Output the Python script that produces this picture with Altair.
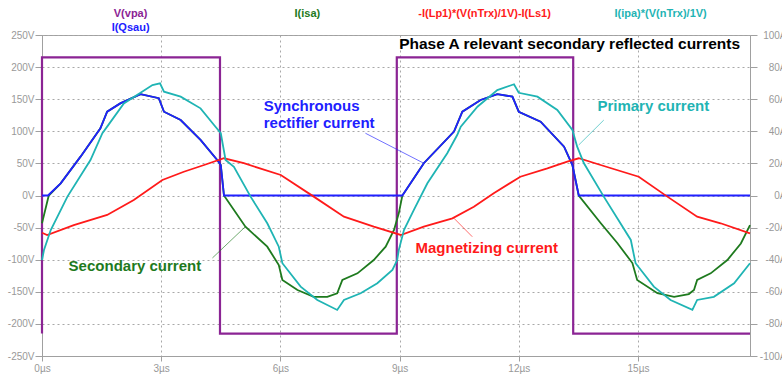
import altair as alt
import pandas as pd

# ---- data (time in µs, voltage in V, currents in A) ----
vpa_t = [0, 0, 4.48, 4.48, 8.93, 8.93, 13.37, 13.37, 17.82]
vpa_v = [-215, 215, 215, -215, -215, 215, 215, -215, -215]

qsau_t = [0, 0.15, 0.47, 0.97, 1.47, 1.64, 1.97, 2.48, 2.94, 3.07, 3.49, 3.99, 4.41, 4.50, 4.58,
          9.07, 9.61, 10.37, 10.58, 11.04, 11.46, 11.84, 12.00, 12.55, 13.14, 13.35, 13.51, 17.82]
qsau_a = [0, 0, 7.6, 24.2, 41.9, 52.2, 57.4, 63.1, 60.6, 52.2, 47.0, 34.6, 22.1, 19.0, 0,
          0, 20.1, 39.8, 52.2, 59.5, 63.1, 61.6, 52.2, 46.0, 30.4, 19.0, 0, 0]

isa_t = [0, 0.17, 0.47, 0.97, 1.47, 1.64, 1.97, 2.48, 2.94, 3.07, 3.49, 3.99, 4.41, 4.50, 4.58,
         5.12, 5.67, 5.96, 6.05, 6.43, 6.84, 7.18, 7.43, 7.56, 7.94, 8.35, 8.65, 8.86, 8.98, 9.07,
         9.61, 10.37, 10.58, 11.04, 11.46, 11.84, 12.00, 12.55, 13.14, 13.35, 13.51,
         14.06, 14.48, 14.86, 14.98, 15.49, 15.91, 16.28, 16.41, 16.49, 16.83, 17.25, 17.59, 17.82]
isa_a = [-17.3, 0, 7.6, 24.2, 41.9, 52.2, 57.4, 63.1, 60.6, 52.2, 47.0, 34.6, 22.1, 19.0, 0,
         -19.4, -31.9, -43.3, -52.6, -58.9, -63.1, -63.1, -60.9, -52.6, -48.5, -40.2, -31.9, -21.5, -11.1, 0,
         20.1, 39.8, 52.2, 59.5, 63.1, 61.6, 52.2, 46.0, 30.4, 19.0, 0,
         -17.1, -29.6, -42.1, -52.6, -60.9, -63.1, -61.4, -58.9, -52.6, -48.5, -40.2, -29.9, -18.4]

lp_t = [0, 0.13, 0.80, 1.64, 2.31, 3.03, 3.57, 4.08, 4.58, 5.08, 6.01, 6.84, 7.60, 8.35, 9.03,
        9.61, 10.33, 10.87, 11.37, 12.04, 12.72, 13.22, 13.51, 14.06, 15.02, 15.74, 16.49, 17.08, 17.82]
lp_a = [-23.2, -24.6, -18.4, -12.1, -2.8, 9.7, 14.8, 19.0, 23.2, 20.1, 12.8, -0.7, -13.2, -19.4, -24.6,
        -19.4, -14.2, -7.0, 1.4, 11.7, 16.9, 21.1, 23.2, 19.0, 11.7, -0.7, -13.2, -17.3, -23.6]

ipa_t = [0, 0.05, 0.22, 0.64, 1.22, 1.52, 1.64, 2.06, 2.48, 2.78, 2.97, 3.07, 3.49, 3.99, 4.33,
         4.50, 4.62, 4.83, 5.25, 5.67, 5.96, 6.05, 6.51, 6.93, 7.43, 7.60, 8.02, 8.44, 8.82, 8.94,
         8.98, 9.11, 9.36, 9.70, 10.20, 10.45, 10.54, 10.96, 11.46, 11.88, 12.00, 12.47, 12.97, 13.35, 13.47,
         13.64, 14.14, 14.82, 14.94, 15.40, 15.82, 16.37, 16.49, 16.91, 17.42, 17.82]
ipa_a = [-40.2, -34.0, -21.5, -0.7, 22.1, 38.8, 42.9, 57.4, 64.0, 68.8, 69.9, 64.7, 61.6, 54.3, 43.9,
         38.8, 22.1, 17.9, -0.7, -17.3, -31.9, -42.2, -56.8, -65.1, -71.3, -65.1, -60.9, -54.7, -46.4, -40.2,
         -34.0, -21.5, -9.0, 7.6, 26.3, 37.7, 42.9, 55.3, 65.7, 69.3, 64.0, 61.6, 53.3, 40.8, 30.4,
         20.1, -0.7, -27.7, -42.2, -56.8, -65.1, -71.3, -65.1, -63.1, -54.7, -42.2]

# trace names shown above the plot (name, x position µs, y position A, colour)
trace_names = ["V(vpa)", "I(Qsau)", "I(isa)", "-I(Lp1)*(V(nTrx)/1V)-I(Ls1)", "I(ipa)*(V(nTrx)/1V)"]
trace_name_t = [2.23, 2.23, 6.68, 11.14, 15.57]
trace_name_a = [113.1, 104.4, 113.1, 113.1, 113.1]

PURPLE = "#8B2494"
BLUE = "#2020FF"
GREEN = "#1E7A1E"
RED = "#FF1A1A"
CYAN = "#1FB4B4"
trace_colors = [PURPLE, BLUE, GREEN, RED, CYAN]

# annotations
ann_text = ["Synchronous", "rectifier current", "Primary current", "Magnetizing current", "Secondary current"]
ann_t = [5.58, 5.58, 13.98, 9.40, 0.67]
ann_a = [55.8, 45.2, 55.8, -32.7, -43.9]
ann_col = [BLUE, BLUE, CYAN, RED, GREEN]

lead_t = [8.14, 14.14, 10.37, 4.29]
lead_a = [38.8, 47.0, -14.2, -38.9]
lead_t2 = [9.61, 13.51, 10.83, 5.12]
lead_a2 = [20.1, 31.5, -25.7, -19.4]
lead_col = [BLUE, CYAN, RED, GREEN]

title_text = "Phase A relevant secondary reflected currents"

FONT = "Liberation Sans"
GRAY = "#a0a0a0"

x_scale = alt.Scale(domain=[0, 17.82], nice=False, zero=False)
x_axis = alt.Axis(values=[0, 3, 6, 9, 12, 15], labelExpr="datum.value + 'µs'", grid=True,
                  gridColor="#a8a8a8", gridDash=[2, 3], tickSize=5, labelPadding=2,
                  labelFont=FONT, labelFontSize=10, labelColor="#999999", tickColor=GRAY,
                  domainColor=GRAY, title=None, labelFlush=False)
v_axis = alt.Axis(values=list(range(-250, 251, 50)), labelExpr="datum.value + 'V'", grid=True,
                  gridColor="#a8a8a8", gridDash=[2, 3], tickSize=7, labelPadding=1,
                  labelFont=FONT, labelFontSize=10, labelColor="#999999", tickColor=GRAY,
                  domainColor=GRAY, title=None, orient="left")
a_axis = alt.Axis(values=list(range(-100, 101, 20)), labelExpr="datum.value + 'A'", grid=False,
                  tickSize=7, labelPadding=29, labelAlign="right",
                  labelFont=FONT, labelFontSize=10, labelColor="#999999", tickColor=GRAY,
                  domainColor=GRAY, title=None, orient="right")
v_scale = alt.Scale(domain=[-250, 250], nice=False, zero=False)
a_scale = alt.Scale(domain=[-100, 100], nice=False, zero=False)


def X(f="t"):
    return alt.X(f"{f}:Q", scale=x_scale, axis=x_axis, title=None)


def YA(f="a"):
    return alt.Y(f"{f}:Q", scale=a_scale, axis=a_axis, title=None)


vpa_df = pd.DataFrame({"t": vpa_t, "v": vpa_v, "i": range(len(vpa_t))})
purple = alt.Chart(vpa_df).mark_line(color=PURPLE, strokeWidth=2.2).encode(
    x=X(), y=alt.Y("v:Q", scale=v_scale, axis=v_axis, title=None), order="i:Q")


def trace(ts, vals, color, width=1.8):
    df = pd.DataFrame({"t": ts, "a": vals, "i": range(len(ts))})
    return alt.Chart(df).mark_line(color=color, strokeWidth=width).encode(x=X(), y=YA(), order="i:Q")


green = trace(isa_t, isa_a, GREEN)
blue = trace(qsau_t, qsau_a, BLUE)
red = trace(lp_t, lp_a, RED)
cyan = trace(ipa_t, ipa_a, CYAN)

names_df = pd.DataFrame({"t": trace_name_t, "a": trace_name_a, "txt": trace_names, "c": trace_colors})
names = alt.Chart(names_df).mark_text(font=FONT, fontSize=11, fontWeight="bold", align="center",
                                       baseline="middle").encode(
    x=X(), y=YA(), text="txt:N", color=alt.Color("c:N", scale=None))

ann_df = pd.DataFrame({"t": ann_t, "a": ann_a, "txt": ann_text, "c": ann_col})
anns = alt.Chart(ann_df).mark_text(font=FONT, fontSize=15, fontWeight="bold", align="left",
                                    baseline="middle").encode(
    x=X(), y=YA(), text="txt:N", color=alt.Color("c:N", scale=None))

lead_df = pd.DataFrame({"t": lead_t, "a": lead_a, "t2": lead_t2, "a2": lead_a2, "c": lead_col})
leads = alt.Chart(lead_df).mark_rule(strokeWidth=0.8, opacity=0.8).encode(
    x=X(), y=YA(), x2="t2:Q", y2="a2:Q", color=alt.Color("c:N", scale=None))

title_df = pd.DataFrame({"t": [8.99], "a": [94.4], "txt": [title_text]})
title = alt.Chart(title_df).mark_text(font=FONT, fontSize=15.5, fontWeight="bold", align="left",
                                       baseline="middle", color="black").encode(
    x=X(), y=YA(), text="txt:N")

currents = alt.layer(green, blue, red, cyan, leads, anns, title, names)

chart = alt.layer(purple, currents).resolve_scale(y="independent").properties(
    width=708, height=321,
    autosize=alt.AutoSizeParams(type="none"),
    padding={"left": 42, "top": 35, "right": 32, "bottom": 21},
    background="white",
).configure_view(stroke=GRAY, strokeWidth=1)

chart.save("out.html", embed_options={"renderer": "svg", "actions": False})
